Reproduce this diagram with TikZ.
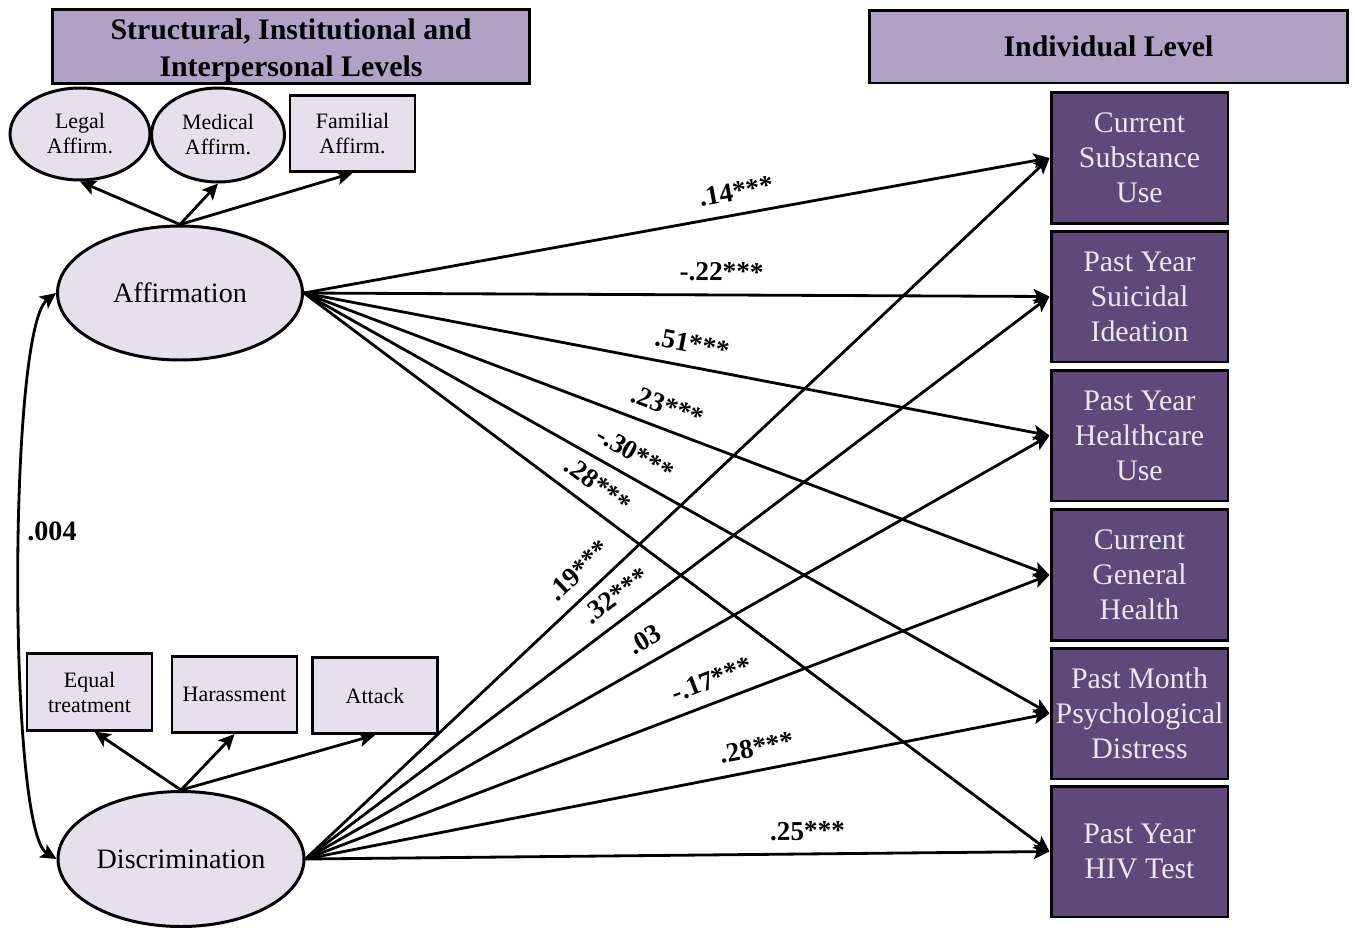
\documentclass[tikz,border=0pt]{standalone}
\usepackage{fontspec}
\setmainfont{Liberation Serif}
\usetikzlibrary{shapes.geometric,arrows.meta}
\definecolor{hdr}{HTML}{B2A1C7}
\definecolor{lite}{HTML}{E5E0EC}
\definecolor{darkp}{HTML}{5F497A}
\definecolor{txtl}{HTML}{EBE7F0}
\tikzset{
  hdrbox/.style={draw, line width=1.7pt, fill=hdr, minimum width=9.56cm, minimum height=1.46cm, inner sep=0pt, align=center, font=\fontsize{17}{21}\selectfont\bfseries},
  lat/.style={ellipse, draw, line width=1.7pt, fill=lite, inner sep=0pt, align=center},
  ind/.style={rectangle, draw, line width=1.5pt, fill=lite, inner sep=0pt, align=center, minimum width=2.5cm, minimum height=1.53cm, font=\fontsize{12.5}{14.2}\selectfont},
  outbox/.style={rectangle, draw=black, line width=1.7pt, fill=darkp, text=txtl, minimum width=3.54cm, minimum height=2.62cm, inner sep=0pt, align=center, font=\fontsize{17}{20}\selectfont},
  conn/.style={line width=1.6pt, -{Stealth[length=9pt,width=8.5pt,inset=2pt]}},
  coef/.style={font=\fontsize{15.5}{18}\selectfont\bfseries, sloped, above, inner sep=7pt},
}
\begin{document}
\begin{tikzpicture}[x=0.02cm, y=-0.02cm]
\useasboundingbox (0,0) rectangle (1355,927);
% headers
\node[hdrbox] (h1) at (291,46.5) {\raisebox{-0.09cm}[\height][\depth]{\begin{tabular}{@{}c@{}}Structural, Institutional and\\Interpersonal Levels\end{tabular}}};
\node[hdrbox] (h2) at (1108.5,46.5) {Individual Level};
% affirmation indicators
\node[lat, minimum width=2.8cm, minimum height=1.84cm, font=\fontsize{12.5}{14.2}\selectfont] (legal) at (80,134) {Legal\\Affirm.};
\node[lat, minimum width=2.66cm, minimum height=1.88cm, font=\fontsize{12.5}{14.2}\selectfont] (medical) at (218,135) {Medical\\Affirm.};
\node[ind] (familial) at (352.5,133.5) {Familial\\Affirm.};
% latent
\node[lat, minimum width=4.9cm, minimum height=2.68cm, font=\fontsize{16}{19}\selectfont] (aff) at (180,293) {Affirmation};
\node[lat, minimum width=4.92cm, minimum height=2.7cm, font=\fontsize{16}{19}\selectfont] (dis) at (181,859) {Discrimination};
% discrimination indicators
\node[ind] (equal) at (89.5,692) {Equal\\treatment};
\node[ind] (harass) at (234.5,694.5) {Harassment};
\node[ind] (attack) at (375,695.5) {Attack};
% outcomes
\node[outbox] (o1) at (1139.5,158) {Current\\Substance\\Use};
\node[outbox] (o2) at (1139.5,296.5) {Past Year\\Suicidal\\Ideation};
\node[outbox] (o3) at (1139.5,435.5) {Past Year\\Healthcare\\Use};
\node[outbox] (o4) at (1139.5,575) {Current\\General\\Health};
\node[outbox] (o5) at (1139.5,713.5) {Past Month\\Psychological\\Distress};
\node[outbox] (o6) at (1139.5,851.5) {Past Year\\HIV Test};
% loadings
\draw[conn] (aff.north) -- (legal.south);
\draw[conn] (aff.north) -- (medical.south);
\draw[conn] (aff.north) -- (familial.south);
\draw[conn] (dis.north) -- ([xshift=0.1cm]equal.south);
\draw[conn] (dis.north) -- (harass.south);
\draw[conn] (dis.north) -- (attack.south);
% covariance
\draw[line width=1.6pt, {Stealth[length=9pt,width=8.5pt,inset=2pt]}-{Stealth[length=9pt,width=8.5pt,inset=2pt]}] (aff.west) .. controls (8,330) and (8,830) .. (dis.west);
\node[font=\fontsize{16}{19}\selectfont\bfseries] (cov) at (52,531) {.004};
% affirmation paths
\draw[conn] (aff.east) -- node[coef, pos=.585]{.14***} (o1.west);
\draw[conn] (aff.east) -- node[coef, pos=.56]{-.22***} (o2.west);
\draw[conn] (aff.east) -- node[coef, pos=.515]{.51***} (o3.west);
\draw[conn] (aff.east) -- node[coef, pos=.477]{.23***} (o4.west);
\draw[conn] (aff.east) -- node[coef, pos=.429]{-.30***} (o5.west);
\draw[conn] (aff.east) -- node[coef, pos=.376]{.28***} (o6.west);
% discrimination paths
\draw[conn] (dis.east) -- node[coef, pos=.388]{.19***} (o1.west);
\draw[conn] (dis.east) -- node[coef, pos=.436]{.32***} (o2.west);
\draw[conn] (dis.east) -- node[coef, pos=.471]{.03} (o3.west);
\draw[conn] (dis.east) -- node[coef, pos=.557]{-.17***} (o4.west);
\draw[conn] (dis.east) -- node[coef, pos=.612]{.28***} (o5.west);
\draw[conn] (dis.east) -- node[coef, pos=.675]{.25***} (o6.west);
\end{tikzpicture}
\end{document}
